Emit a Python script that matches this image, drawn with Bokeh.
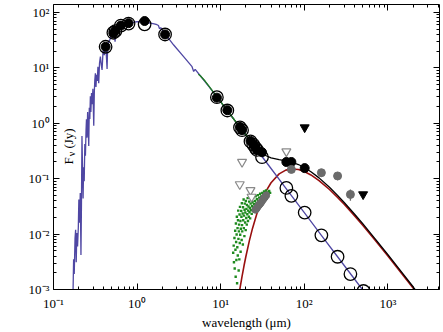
import numpy as np
from bokeh.plotting import figure
from bokeh.models import FixedTicker, LogAxis, Range1d, Label, CustomJSTickFormatter
from bokeh.embed import file_html
from bokeh.resources import INLINE

# ---------------- data ----------------
# stellar photosphere model spectrum (blue)
phot_wav = [0.171, 0.174, 0.177, 0.181, 0.184, 0.187, 0.190, 0.194, 0.198, 0.201, 0.205, 0.209,
            0.213, 0.216, 0.219, 0.222, 0.226, 0.229, 0.233, 0.237, 0.241, 0.245, 0.248, 0.252,
            0.256, 0.260, 0.264, 0.268, 0.272, 0.276, 0.280, 0.285, 0.290, 0.296, 0.303, 0.308,
            0.312, 0.317, 0.322, 0.328, 0.334, 0.340, 0.3475, 0.355, 0.364, 0.372, 0.381, 0.390,
            0.398, 0.405, 0.415, 0.425, 0.4375, 0.445, 0.46, 0.47, 0.49, 0.51, 0.53, 0.545, 0.555,
            0.58, 0.63, 0.70, 0.79, 0.90, 1.0, 1.15, 1.3, 1.44, 1.6, 1.73, 1.80, 1.85, 1.92, 2.14,
            2.74, 3.6, 4.54, 4.75, 4.95, 5.7, 7.0, 9.0, 12.0, 17.0, 24.0, 31.0, 40.0, 60.0, 100.0,
            160.0, 250.0, 400.0, 600.0]
phot_flux = [0.0008, 0.0035, 0.0019, 0.0085, 0.012, 0.0031, 0.0105, 0.0060, 0.013, 0.042, 0.016, 0.055,
             0.0042, 0.035, 0.59, 0.19, 0.044, 0.16, 0.09, 0.42, 0.26, 0.75, 1.18, 0.55,
             1.6, 0.85, 0.39, 1.9, 1.2, 3.07, 1.6, 3.5, 2.2, 4.2, 0.9, 3.8,
             6.0, 8.0, 4.5, 7.5, 5.8, 10.5, 5.3, 12.0, 15.9, 11.5, 9.2, 18.0,
             22.5, 17.0, 23.0, 21.0, 9.5, 26.0, 30.0, 31.6, 37.0, 42.0, 44.0, 29.5, 45.0,
             50.0, 58.0, 62.0, 64.0, 66.0, 68.0, 67.0, 66.0, 64.0, 62.0, 60.0, 58.0, 51.0, 53.0, 42.0,
             25.8, 15.9, 10.5, 8.6, 9.4, 7.2, 4.9, 3.0, 1.69, 0.845, 0.424, 0.254, 0.1525, 0.0678, 0.0244,
             0.0095, 0.0039, 0.00153, 0.00068]

# IRS spectrum (green line)
irs_wav = [5.4, 5.7, 6.5, 7.5, 9.0, 10.5, 12.0, 14.0, 17.0, 20.0, 24.0, 27.0]
irs_flux = [7.7, 7.2, 5.78, 4.34, 3.0, 2.21, 1.69, 1.245, 0.85, 0.615, 0.437, 0.36]

# dust blackbody (dark red)
dust_wav = [16.5, 17, 18, 19, 20, 22, 24, 27, 30, 35, 40, 50, 60, 70, 85, 100, 120, 150, 200,
            250, 300, 400, 500, 700, 1000, 1500, 2000, 2500]
dust_flux = [0.00079, 0.00105, 0.00173, 0.00268, 0.00394, 0.00754, 0.01266, 0.0230, 0.0360, 0.0604,
             0.0844, 0.1222, 0.1426, 0.1498, 0.1460, 0.1346, 0.1167, 0.0925, 0.0638, 0.0460, 0.0345,
             0.0213, 0.01444, 0.00783, 0.00402, 0.00185, 0.00106, 0.00068]

# total model (black)
total_wav = [9, 12, 17, 20, 24, 27, 30, 35, 40, 50, 60, 70, 85, 100, 120, 150, 200, 250, 300, 400,
             500, 700, 1000, 1500, 2000, 2500]
total_flux = [3.0, 1.69, 0.845, 0.614, 0.436, 0.358, 0.307, 0.259, 0.237, 0.220, 0.210, 0.200, 0.180,
              0.159, 0.1336, 0.1033, 0.0699, 0.0499, 0.0372, 0.0228, 0.0154, 0.0083, 0.00426, 0.00196,
              0.00112, 0.00072]

# IRS excess spectrum points (green dots)
dots_wav = [14.1, 14.3, 14.4, 14.6, 14.7, 14.9, 15.0, 15.1, 15.2, 15.3, 15.4, 15.5, 15.6, 15.7, 15.8,
            15.9, 16.0, 16.1, 16.2, 16.3, 16.4, 16.5, 16.6, 16.7, 16.8, 16.9, 17.0, 17.1, 17.2, 17.3,
            17.4, 17.6, 17.7, 17.8, 17.9, 18.0, 18.1, 18.3, 18.4, 18.5, 18.6, 18.8, 18.9, 19.0, 19.2,
            19.3, 19.4, 19.6, 19.7, 19.9, 20.0, 20.2, 20.3, 20.5, 20.6, 20.8, 21.0, 21.2, 21.3, 21.5,
            21.7, 21.9, 22.1, 22.3, 22.5, 22.8, 23.0, 23.2, 23.5, 23.7, 24.0, 24.2, 24.5, 24.8, 25.0,
            25.3, 25.6, 25.9, 26.2, 26.5, 26.8, 27.1, 27.4, 27.8, 28.1, 28.4, 28.8, 29.2, 29.6, 30.0,
            30.4, 30.9, 31.4, 31.9, 32.4, 33.0, 33.6, 34.2, 34.8, 35.5, 36.2, 37.0, 38.0, 39.0]
dots_flux = [0.0046, 0.0062, 0.0031, 0.0085, 0.0024, 0.0115, 0.0052, 0.0017, 0.0155, 0.0072, 0.0034,
             0.0098, 0.0205, 0.0013, 0.0058, 0.0128, 0.0041, 0.0178, 0.0265, 0.0082, 0.0022, 0.0112,
             0.0148, 0.0035, 0.0225, 0.0069, 0.031, 0.0097, 0.0172, 0.0048, 0.0125, 0.0262, 0.0205,
             0.0078, 0.036, 0.0145, 0.0112, 0.0235, 0.0065, 0.0305, 0.0178, 0.042, 0.0128, 0.0215,
             0.0092, 0.0275, 0.0355, 0.0162, 0.0245, 0.0118, 0.0395, 0.0195, 0.0285, 0.0148, 0.0335,
             0.0228, 0.0445, 0.0172, 0.0265, 0.0315, 0.0205, 0.0385, 0.0248, 0.0295, 0.0192, 0.0355,
             0.0272, 0.0425, 0.0232, 0.0318, 0.0375, 0.0265, 0.0455, 0.0298, 0.0345, 0.0255, 0.0395,
             0.0312, 0.0482, 0.0285, 0.0365, 0.0425, 0.0335, 0.0505, 0.0392, 0.0318, 0.0455, 0.0372,
             0.0535, 0.0415, 0.0478, 0.0365, 0.0555, 0.0442, 0.0502, 0.0585, 0.0462, 0.0535, 0.0612,
             0.0495, 0.0565, 0.0525, 0.0598, 0.0555]

# binned IRS photometry (grey points)
bin_wav = [26.0, 26.8, 27.6, 28.5, 29.4, 30.3, 31.3, 32.4, 33.6, 35.0]
bin_flux = [0.0275, 0.029, 0.031, 0.033, 0.035, 0.037, 0.040, 0.043, 0.046, 0.050]

# observed photometry (filled black)
obs_wav = [0.42, 0.52, 0.55, 0.64, 0.79, 1.23, 2.16, 9.0, 12.0, 17.0, 18.0, 22.7, 24.5, 26.0, 27.2,
           31.2, 61.0, 70.0, 101.0]
obs_flux = [24, 42, 47, 58, 64, 70, 40, 2.9, 1.72, 0.86, 0.75, 0.48, 0.42, 0.37, 0.33, 0.30, 0.20,
            0.20, 0.155]

# photosphere predictions (open circles)
pred_wav = [0.42, 0.52, 0.55, 0.64, 0.79, 1.23, 2.16, 9.0, 12.0, 17.0, 18.0, 22.7, 24.5, 26.0, 27.2,
            31.2, 61.0, 70.0, 101.0, 160.0, 250.0, 356.0, 510.0]
pred_flux = [24, 43, 46, 58, 63, 61, 40, 2.95, 1.70, 0.84, 0.75, 0.47, 0.41, 0.36, 0.33, 0.244, 0.068,
             0.049, 0.0244, 0.0095, 0.0039, 0.0019, 0.00094]

# other far-IR photometry (grey filled with error bars)
far_wav = [70, 160, 250, 356]
far_flux = [0.147, 0.128, 0.112, 0.052]
far_err = [0.0, 0.02, 0.018, 0.012]

# upper limits
lim_wav = [101, 505]
lim_flux = [0.84, 0.052]
olim_wav = [16.9, 18.0, 22.7, 23.4, 61.0]
olim_flux = [0.079, 0.2, 0.062, 0.047, 0.31]

# ticks
x_tick_values = [0.1, 1, 10, 100, 1000]
x_tick_labels = ["10\u207b\u00b9", "10\u2070", "10\u00b9", "10\u00b2", "10\u00b3"]
y_tick_values = [0.001, 0.01, 0.1, 1, 10, 100]
y_tick_labels = ["10\u207b\u00b3", "10\u207b\u00b2", "10\u207b\u00b9", "10\u2070", "10\u00b9", "10\u00b2"]

# ---------------- figure ----------------
FONT = "Liberation Serif"
W, H = 443, 332
BOTTOM = 40
p = figure(x_axis_type="log", y_axis_type="log",
           x_range=Range1d(0.1, 4140), y_range=Range1d(1e-3, 139),
           width=W, height=H,
           output_backend="svg", toolbar_location=None,
           min_border_left=53, min_border_right=4, min_border_top=4, min_border_bottom=BOTTOM)
p.grid.visible = False
p.outline_line_color = None
p.background_fill_color = "white"

x_minor = [m * 10.0 ** e for e in range(-1, 4) for m in range(2, 10)]
y_minor = [m * 10.0 ** e for e in range(-3, 3) for m in range(2, 10)]
xt = FixedTicker(ticks=x_tick_values, minor_ticks=x_minor)
yt = FixedTicker(ticks=y_tick_values, minor_ticks=y_minor)

def style_axis(ax):
    ax.major_tick_in = 6
    ax.major_tick_out = 0
    ax.minor_tick_in = 3
    ax.minor_tick_out = 0
    ax.axis_line_color = "black"
    ax.major_tick_line_color = "black"
    ax.minor_tick_line_color = "black"
    ax.major_label_text_font = FONT
    ax.major_label_text_font_size = "13px"
    ax.major_label_text_color = "black"
    ax.major_label_standoff = 4

p.xaxis.ticker = xt
p.yaxis.ticker = yt
p.xaxis.major_label_overrides = dict(zip(x_tick_values, x_tick_labels))
p.yaxis.major_label_overrides = dict(zip(y_tick_values, y_tick_labels))
style_axis(p.xaxis[0])
style_axis(p.yaxis[0])
p.xaxis.major_label_standoff = 6
p.xaxis.axis_label = "wavelength (\u03bcm)"
p.xaxis.axis_label_text_font = FONT
p.xaxis.axis_label_text_font_style = "normal"
p.xaxis.axis_label_text_font_size = "13px"
p.xaxis.axis_label_standoff = 1
p.xaxis.axis_label_text_color = "black"

blank = CustomJSTickFormatter(code="return ''")
top = LogAxis(ticker=FixedTicker(ticks=x_tick_values, minor_ticks=x_minor), formatter=blank)
right = LogAxis(ticker=FixedTicker(ticks=y_tick_values, minor_ticks=y_minor), formatter=blank)
for ax in (top, right):
    style_axis(ax)
    ax.major_label_text_font_size = "0px"
    ax.major_label_standoff = 0
p.add_layout(top, "above")
p.add_layout(right, "right")

# y axis label "F_nu (Jy)" built from labels
FB = H - BOTTOM  # frame bottom in page pixels
for txt, x, y, fs in [("F", 15, FB - 163.5, "13px"), ("\u03bd", 17.5, FB - 156.5, "10px"),
                      ("(Jy)", 15, FB - 141, "13px")]:
    p.add_layout(Label(x=x, y=y, x_units="screen", y_units="screen", text=txt, angle=np.pi / 2,
                       text_font=FONT, text_font_size=fs, text_align="center",
                       text_baseline="alphabetic", text_color="black"))

# ---------------- glyphs ----------------
BLUE = "#4f47a3"
RED = "#990f0f"
GREEN = "#1f7f1f"
GREY = "#6b6b6b"

p.line(dust_wav, dust_flux, line_color=RED, line_width=1.6)
p.line(total_wav, total_flux, line_color="black", line_width=1.3)
p.line(phot_wav, phot_flux, line_color=BLUE, line_width=1.3)
p.line(irs_wav, irs_flux, line_color=GREEN, line_width=1.3)

p.scatter(dots_wav, dots_flux, marker="square", size=2.4, fill_color="#1e8a1e", line_color=None)
p.scatter(bin_wav, bin_flux, marker="circle", size=7, fill_color=GREY, line_color=GREY)

p.scatter(obs_wav, obs_flux, marker="circle", size=9, fill_color="black", line_color="black")
p.scatter(pred_wav, pred_flux, marker="circle", size=12.5, fill_color=None, line_color="black",
          line_width=1.3)

far_lo = [f - e for f, e in zip(far_flux, far_err)]
far_hi = [f + e for f, e in zip(far_flux, far_err)]
p.segment(far_wav, far_lo, far_wav, far_hi, line_color=GREY, line_width=1.3)
p.scatter(far_wav, far_flux, marker="circle", size=8, fill_color=GREY, line_color=GREY)

p.scatter(lim_wav, lim_flux, marker="inverted_triangle", size=9, fill_color="black", line_color="black")
p.scatter(olim_wav, olim_flux, marker="inverted_triangle", size=9, fill_color="white",
          line_color="#8a8a8a", line_width=1.2)

open("out.html", "w").write(file_html(p, INLINE))
